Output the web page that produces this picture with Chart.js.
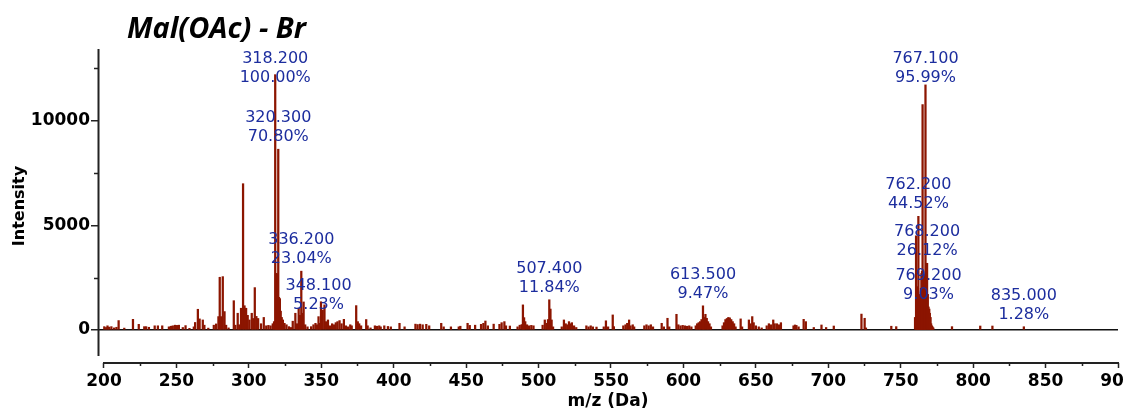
<!DOCTYPE html>
<html>
<head>
<meta charset="utf-8">
<script src="https://cdn.jsdelivr.net/npm/chart.js@4.4.1/dist/chart.umd.min.js"></script>
<style>
  html, body { margin: 0; padding: 0; background: #fff; }
</style>
</head>
<body>
<canvas id="myChart" width="1124" height="412"></canvas>
<script>
// m/z positions of the sticks and their intensities
var mzValues = [
  200.2, 201.5, 202.4, 203.5, 205.1, 207.0, 208.6, 210.1, 214.0, 220.0, 224.0, 227.8, 229.1, 231.0, 235.0, 237.2,
  240.2, 244.8, 246.2, 247.5, 249.0, 250.3, 251.7, 254.4, 256.3, 259.0, 262.0, 262.9, 264.8, 266.0, 268.2, 269.3,
  272.0, 275.8, 277.4, 279.0, 279.9, 280.8, 282.0, 283.2, 284.3, 286.0, 289.6, 290.7, 292.3, 293.4, 294.6, 296.0,
  297.0, 298.1, 299.2, 300.4, 302.0, 303.0, 304.1, 305.2, 306.4, 308.4, 310.3, 312.0, 313.5, 315.0, 316.5, 317.4,
  318.2, 318.7, 319.2, 319.7, 320.3, 320.8, 321.4, 322.0, 322.7, 323.5, 324.6, 326.0, 327.7, 329.0, 330.3, 332.1,
  333.3, 334.4, 335.2, 336.2, 337.0, 337.8, 338.9, 340.5, 343.0, 344.6, 346.0, 347.0, 348.1, 349.0, 349.8, 351.0,
  352.2, 353.2, 354.6, 356.0, 357.5, 358.8, 360.0, 361.2, 362.6, 364.0, 365.6, 367.0, 368.5, 370.0, 371.0, 374.1,
  375.2, 376.2, 377.5, 381.0, 382.0, 384.0, 387.0, 388.4, 390.0, 391.0, 393.5, 396.0, 398.0, 404.0, 407.5, 415.0,
  416.5, 418.2, 420.0, 422.5, 424.5, 432.8, 434.5, 439.5, 444.9, 446.0, 451.0, 452.5, 456.2, 460.3, 461.9, 463.3,
  465.0, 469.0, 473.0, 474.5, 476.4, 477.5, 480.2, 485.5, 487.0, 488.4, 489.2, 490.0, 490.8, 492.0, 493.5, 495.0,
  496.5, 502.8, 504.3, 505.5, 506.5, 507.4, 508.2, 509.0, 510.0, 516.0, 517.5, 518.7, 519.8, 521.0, 522.0, 523.0,
  524.5, 526.0, 533.0, 534.5, 536.0, 537.5, 540.0, 545.0, 546.5, 548.0, 551.2, 552.0, 558.5, 560.0, 561.2, 562.5,
  563.5, 565.0, 566.0, 573.0, 574.5, 576.0, 577.5, 579.0, 585.0, 586.5, 589.0, 590.2, 595.2, 596.5, 598.0, 599.5,
  601.0, 602.5, 604.0, 605.5, 608.5, 609.5, 610.5, 611.5, 612.5, 613.5, 614.3, 615.2, 616.1, 617.0, 618.0, 619.0,
  627.0, 628.0, 629.0, 630.0, 631.0, 632.0, 633.0, 634.0, 635.0, 636.0, 639.5, 640.5, 645.2, 646.3, 647.5, 648.5,
  650.0, 652.0, 654.0, 657.5, 659.0, 660.5, 662.0, 663.0, 664.5, 666.0, 667.3, 676.0, 677.0, 678.0, 679.5, 683.0,
  684.5, 690.0, 695.3, 698.5, 703.8, 722.9, 725.1, 726.0, 743.5, 746.9,
  759.9, 760.6, 761.0, 761.3, 761.7, 762.2, 762.7, 763.2, 763.6, 764.0, 764.3, 764.7, 765.1, 765.5, 765.9,
  766.3, 766.7, 767.1, 767.6, 768.2, 768.7, 769.2, 769.7, 770.1, 770.6, 771.0, 771.5, 772.0, 772.5,
  785.4, 804.9, 813.3, 835.0
];
var intensityValues = [
  160, 120, 200, 140, 160, 100, 130, 450, 90, 510, 270, 160, 160, 130, 200, 200,
  200, 150, 180, 200, 230, 220, 230, 120, 210, 80, 150, 360, 990, 530, 480, 230,
  90, 230, 290, 640, 2520, 640, 2550, 880, 230, 100, 1400, 230, 800, 250, 1040, 6990,
  1160, 1040, 700, 480, 800, 550, 2025, 650, 550, 300, 600, 200, 220, 200, 300, 400,
  12200, 2700, 2700, 2650, 8638, 1560, 1500, 900, 600, 480, 320, 250, 160, 120, 420, 800,
  300, 1040, 700, 2811, 800, 1340, 250, 150, 160, 250, 320, 250, 638, 320, 1350, 950,
  1200, 400, 480, 200, 300, 250, 350, 400, 450, 300, 510, 200, 150, 250, 200, 1165,
  400, 300, 200, 500, 200, 100, 200, 180, 200, 150, 200, 170, 150, 320, 150, 280,
  260, 280, 250, 270, 200, 320, 150, 150, 150, 180, 320, 220, 230, 270, 320, 430,
  200, 280, 270, 350, 400, 200, 190, 150, 230, 260, 1200, 590, 400, 250, 200, 220,
  200, 230, 480, 320, 500, 1444, 1000, 480, 150, 150, 480, 300, 250, 400, 300, 350,
  200, 120, 200, 150, 200, 150, 140, 150, 440, 150, 720, 160, 200, 250, 320, 480,
  200, 250, 150, 200, 250, 200, 250, 150, 320, 150, 560, 150, 750, 250, 200, 220,
  200, 180, 200, 150, 200, 300, 350, 400, 500, 1155, 600, 750, 560, 400, 300, 150,
  200, 350, 500, 550, 600, 580, 500, 400, 300, 150, 530, 150, 480, 300, 640, 350,
  200, 150, 100, 200, 300, 250, 480, 300, 300, 250, 350, 200, 240, 220, 150, 510,
  400, 120, 240, 120, 190, 760, 560, 100, 180, 160,
  600, 4500, 1800, 2070, 1900, 5431, 1700, 1500, 1440, 2000, 2700, 2800, 10770, 2600, 2650,
  2550, 2400, 11711, 3000, 3187, 1700, 1102, 1000, 800, 600, 300, 200, 150, 100,
  160, 190, 190, 156
];
// annotated peaks (percent is relative to the base peak)
var peakLabelMz = [318.2, 320.3, 336.2, 348.1, 507.4, 613.5, 767.1, 762.2, 768.2, 769.2, 835.0];
var xTicks = [200, 250, 300, 350, 400, 450, 500, 550, 600, 650, 700, 750, 800, 850, 900];
var xMinorTicks = [225, 275, 325, 375, 425, 475, 525, 575, 625, 675, 725, 775, 825, 875];
var yTicks = [0, 2500, 5000, 7500, 10000, 12500];

var basePeak = Math.max.apply(null, intensityValues);
var labelFont = 'DejaVu Sans';

var spectrumDecor = {
    id: 'spectrumDecor',
    afterDatasetsDraw: function (chart) {
        var ctx = chart.ctx;
        var x = chart.scales.x, y = chart.scales.y;
        ctx.save();

        // axis lines
        ctx.strokeStyle = '#222';
        ctx.lineWidth = 2;
        ctx.beginPath();
        ctx.moveTo(x.left + 0.5, y.top);
        ctx.lineTo(x.left + 0.5, y.getPixelForValue(-1242));
        ctx.stroke();
        ctx.beginPath();
        ctx.moveTo(x.getPixelForValue(200) - 1, y.bottom);
        ctx.lineTo(x.getPixelForValue(900) + 1, y.bottom);
        ctx.stroke();

        // minor ticks
        ctx.lineWidth = 1.5;
        yTicks.forEach(function (v) {
            if (v % 5000 === 0) return;
            var py = Math.round(y.getPixelForValue(v)) + 0.5;
            ctx.beginPath();
            ctx.moveTo(x.left - 4, py);
            ctx.lineTo(x.left, py);
            ctx.stroke();
        });
        xMinorTicks.forEach(function (v) {
            var px = Math.round(x.getPixelForValue(v)) + 0.5;
            ctx.beginPath();
            ctx.moveTo(px, y.bottom);
            ctx.lineTo(px, y.bottom + 3);
            ctx.stroke();
        });

        // peak labels
        ctx.fillStyle = '#1c2d9e';
        ctx.font = '16px "' + labelFont + '"';
        ctx.textAlign = 'center';
        ctx.textBaseline = 'middle';
        peakLabelMz.forEach(function (m) {
            var val = intensityValues[mzValues.indexOf(m)];
            var px = x.getPixelForValue(m);
            var line2 = Math.max(y.getPixelForValue(val) - 12, y.top + 29);
            ctx.fillText(m.toFixed(3), px, line2 - 19);
            ctx.fillText((val / basePeak * 100).toFixed(2) + '%', px, line2);
        });

        // title
        ctx.fillStyle = '#000';
        ctx.font = 'italic bold 29px "Open Sans"';
        ctx.textAlign = 'left';
        ctx.textBaseline = 'alphabetic';
        ctx.fillText('Mal(OAc) - Br', 127, 38);
        ctx.restore();
    }
};

var tickFont = { family: 'DejaVu Sans', weight: 'bold', size: 17 };

var ctx = document.getElementById('myChart').getContext('2d');
var myChart = new Chart(ctx, {
    type: 'bar',
    data: {
        datasets: [{
            data: mzValues.map(function (m, i) { return { x: m, y: intensityValues[i] }; }),
            backgroundColor: '#8c1500',
            borderWidth: 0,
            barThickness: 1.6,
            grouped: false
        }]
    },
    options: {
        responsive: false,
        animation: false,
        devicePixelRatio: 1,
        layout: { padding: { top: 49, right: 6, left: 0, bottom: 0 } },
        plugins: {
            legend: { display: false },
            tooltip: { enabled: false }
        },
        scales: {
            x: {
                type: 'linear',
                min: 195.86,
                max: 900,
                offset: false,
                afterBuildTicks: function (s) { s.ticks = xTicks.map(function (v) { return { value: v }; }); },
                afterFit: function (s) {
                    s.height = 49;
                    s.paddingLeft = 0; s.paddingRight = 0;
                },
                grid: { offset: false, drawOnChartArea: false, tickLength: 5, tickColor: '#222', tickWidth: 1.5 },
                border: { display: false },
                ticks: { font: tickFont, color: '#000', padding: 3, maxRotation: 0, autoSkip: false },
                title: {
                    display: true, text: 'm/z (Da)', color: '#000',
                    font: { family: 'DejaVu Sans', weight: 'bold', size: 17 },
                    padding: { top: 0, bottom: 0 }
                }
            },
            y: {
                min: -1577,
                max: 13426,
                afterBuildTicks: function (s) { s.ticks = yTicks.map(function (v) { return { value: v }; }); },
                afterFit: function (s) {
                    s.width = 98;
                    s.paddingTop = 0; s.paddingBottom = 0;
                },
                grid: {
                    drawOnChartArea: true,
                    lineWidth: 1.5,
                    color: function (c) { return c.tick && c.tick.value === 0 ? '#111' : 'rgba(0,0,0,0)'; },
                    tickColor: function (c) { return c.tick && c.tick.value % 5000 === 0 ? '#222' : 'rgba(0,0,0,0)'; },
                    tickLength: 7,
                    tickWidth: 1.5
                },
                border: { display: false },
                ticks: {
                    font: tickFont, color: '#000', padding: 1,
                    callback: function (v) { return v % 5000 === 0 ? String(v) : ''; }
                },
                title: {
                    display: true, text: 'Intensity', color: '#000',
                    font: { family: 'DejaVu Sans', weight: 'bold', size: 16 },
                    padding: { top: 10, bottom: 0 }
                }
            }
        }
    },
    plugins: [spectrumDecor]
});
</script>
</body>
</html>
